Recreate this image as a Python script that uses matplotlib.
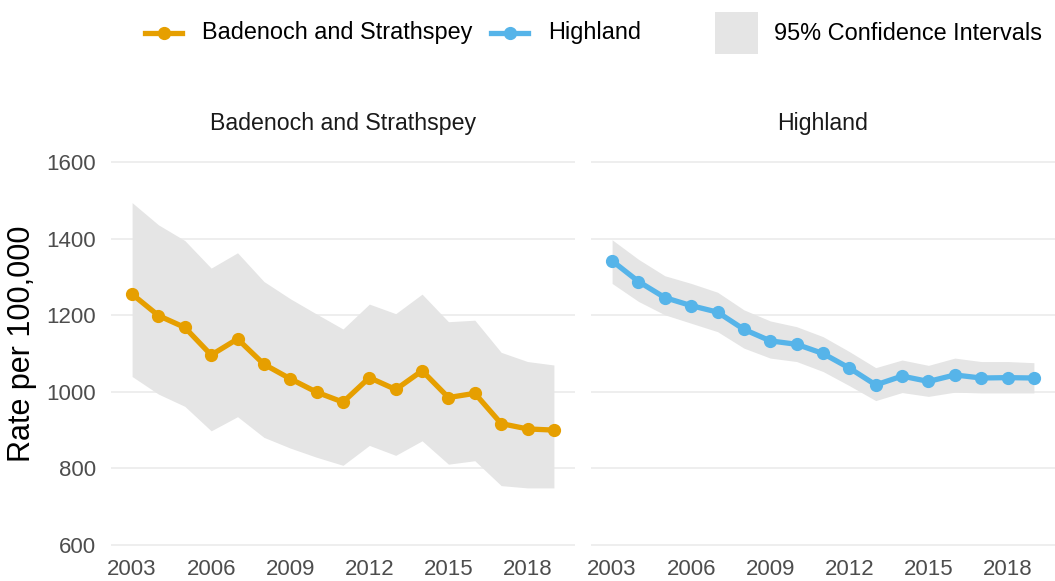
import matplotlib.pyplot as plt
from matplotlib.lines import Line2D
from matplotlib.patches import Rectangle

plt.rcParams['font.family'] = ['Liberation Sans', 'DejaVu Sans']

# data
years = list(range(2003, 2020))
bs_rate = [1255, 1199, 1168, 1096, 1138, 1072, 1034, 999, 973, 1037, 1006, 1055, 985, 996, 917, 903, 900]
bs_lower = [1040, 994, 962, 898, 935, 881, 853, 829, 808, 860, 834, 872, 811, 820, 755, 749, 749]
bs_upper = [1494, 1436, 1395, 1323, 1363, 1288, 1243, 1203, 1164, 1229, 1204, 1255, 1183, 1187, 1103, 1079, 1070]
hl_rate = [1342, 1288, 1246, 1225, 1208, 1163, 1133, 1124, 1100, 1062, 1018, 1041, 1027, 1044, 1036, 1037, 1036]
hl_lower = [1283, 1236, 1201, 1179, 1157, 1114, 1088, 1079, 1053, 1016, 977, 998, 988, 999, 997, 997, 997]
hl_upper = [1397, 1346, 1303, 1283, 1260, 1214, 1185, 1170, 1144, 1105, 1063, 1083, 1069, 1088, 1079, 1079, 1076]

areas = ["Badenoch and Strathspey", "Highland"]
colours = ["#E69F00", "#56B4E9"]
xticks = [2003, 2006, 2009, 2012, 2015, 2018]
yticks = [600, 800, 1000, 1200, 1400, 1600]

W, H = 1055, 581
fig = plt.figure(figsize=(W / 100, H / 100), dpi=100)


def fx(px):
    return px / W


def fy(py):
    return 1 - py / H


series = [(bs_rate, bs_lower, bs_upper), (hl_rate, hl_lower, hl_upper)]
lefts = [111, 591]
for i, (rate, lo, hi) in enumerate(series):
    ax = fig.add_axes([fx(lefts[i]), fy(548.8), 464 / W, (548.8 - 158.2) / H])
    ax.fill_between(years, lo, hi, color="#E5E5E5", lw=0, zorder=2)
    ax.plot(years, rate, color=colours[i], lw=3.8, marker="o", ms=8.5, zorder=3)
    ax.set_xlim(2002.2, 2019.8)
    ax.set_ylim(590, 1610)
    ax.set_xticks(xticks)
    ax.set_yticks(yticks)
    ax.grid(axis="y", color="#EBEBEB", lw=1.2, zorder=0)
    ax.grid(axis="x", visible=False)
    for s in ax.spines.values():
        s.set_visible(False)
    ax.tick_params(length=0, labelsize=16, labelcolor="#4D4D4D")
    ax.tick_params(axis="x", pad=7)
    ax.tick_params(axis="y", pad=11)
    if i == 1:
        ax.set_yticklabels([])
    ax.text(0.5, 1.09, areas[i], transform=ax.transAxes, ha="center", va="center",
            fontsize=16.7, color="#1A1A1A")

fig.text(fx(22), fy(344), "Rate per 100,000", rotation=90, ha="center", va="center",
         fontsize=22, color="black")

# legend drawn in figure space
for (x0, x1, tx), c, lab in zip([(145, 182, 202), (491, 528, 548)], colours, areas):
    fig.add_artist(Line2D([fx(x0), fx(x1)], [fy(33), fy(33)], transform=fig.transFigure,
                          color=c, lw=3.8))
    fig.add_artist(Line2D([fx((x0 + x1) / 2)], [fy(33)], transform=fig.transFigure,
                          color=c, marker="o", ms=8.5, lw=0))
    fig.text(fx(tx), fy(33), lab, ha="left", va="center", fontsize=16.9, color="black")
fig.add_artist(Rectangle((fx(715), fy(54)), 43 / W, 42 / H, transform=fig.transFigure,
                         facecolor="#E5E5E5", edgecolor="none"))
fig.text(fx(774), fy(33), "95% Confidence Intervals", ha="left", va="center",
         fontsize=16.9, color="black")

fig.savefig("out.png", dpi=100)
